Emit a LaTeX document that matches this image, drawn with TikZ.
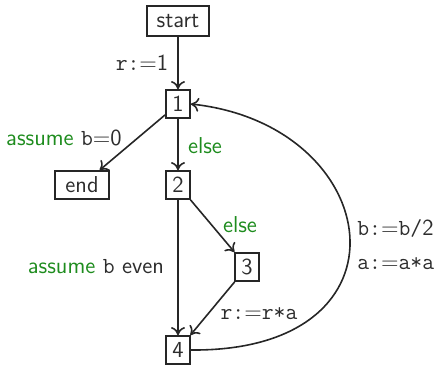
\documentclass[tikz,border=0pt]{standalone}
\usetikzlibrary{arrows.meta}
\definecolor{grn}{RGB}{30,140,30}
\definecolor{txt}{RGB}{45,45,45}
\newcommand{\tcode}[1]{{\ttfamily #1}}
\begin{document}
\begin{tikzpicture}[x=0.5pt,y=-0.5pt,
  font=\sffamily\fontsize{11.5}{14}\selectfont,
  every node/.style={text=txt},
  stepbox/.style={draw=black!85,line width=0.9pt,minimum height=28*0.5pt,inner sep=2.5pt,minimum width=24*0.5pt},
  edge/.style={draw=black!85,line width=0.8pt,-{To[length=4pt,width=7pt]}},
  lbl/.style={inner sep=1pt}]
\useasboundingbox (0,0) rectangle (435,366);
\node[stepbox,minimum width=62*0.5pt,minimum height=30*0.5pt] (s) at (178,21) {start};
\node[stepbox] (n1) at (178,104) {1};
\node[stepbox,minimum width=54*0.5pt] (e) at (82,185) {end};
\node[stepbox] (n2) at (178,185) {2};
\node[stepbox] (n3) at (247,267) {3};
\node[stepbox] (n4) at (178,350) {4};

\draw[edge] (s) -- (n1);
\draw[edge] (n1) -- (e);
\draw[edge] (n1) -- (n2);
\draw[edge] (n2) -- (n3);
\draw[edge] (n2) -- (n4);
\draw[edge] (n3) -- (n4);
\draw[edge] (n4.east) .. controls (420,352) and (385,125) .. (n1.east);

\node[lbl] (l1) at (142,63) {\tcode{r:}=1};
\node[lbl] (l2) at (64,138) {\textcolor{grn}{assume} \tcode{b}=0};
\node[lbl] (l3) at (205,146) {\textcolor{grn}{else}};
\node[lbl] (l4) at (240,225) {\textcolor{grn}{else}};
\node[lbl] (l5) at (96,267) {\textcolor{grn}{assume} \tcode{b} even};
\node[lbl] (l6) at (259,314) {\tcode{r:}=\tcode{r*a}};
\node[lbl,anchor=west,align=left] (l7) at (355,245) {\tcode{b:}=\tcode{b/}2\\[3pt]\tcode{a:}=\tcode{a*a}};
\end{tikzpicture}
\end{document}
